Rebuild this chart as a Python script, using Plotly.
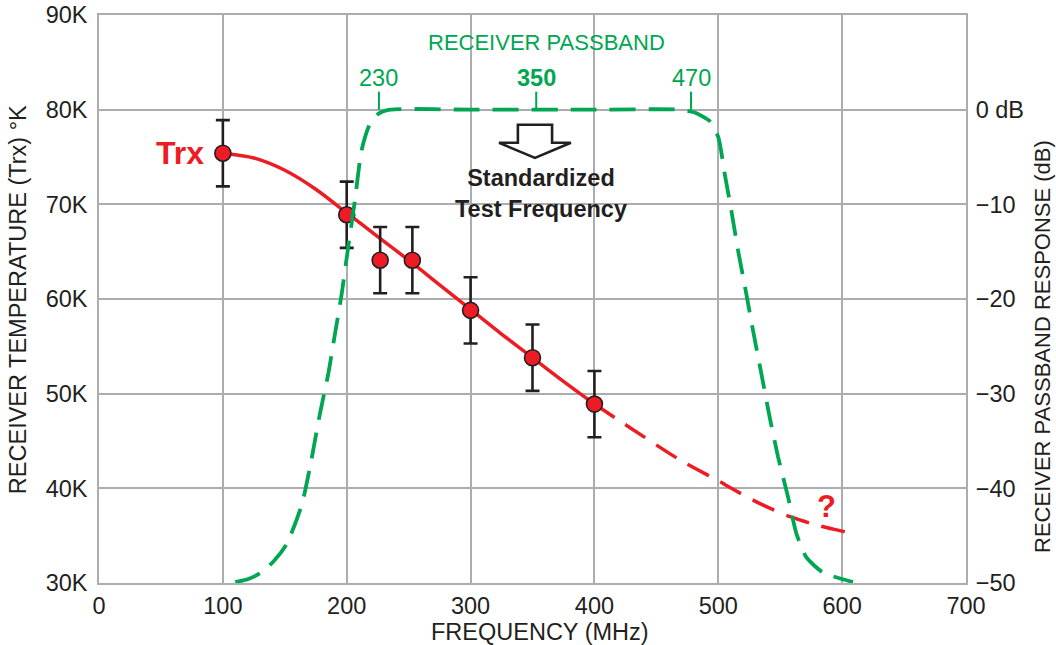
import plotly.graph_objects as go

# ---------------- data ----------------
meas_freq = [100, 200, 227, 253, 300, 350, 400]          # MHz
meas_trx = [75.4, 68.9, 64.1, 64.1, 58.8, 53.8, 48.9]    # K (thousands)
meas_err = [3.5, 3.5, 3.5, 3.5, 3.5, 3.5, 3.5]

fit_freq = [100, 125, 150, 175, 200, 225, 250, 275, 300, 325, 350, 375, 400]
fit_trx = [75.4, 74.9, 73.6, 71.6, 69.1, 66.6, 64.1, 61.5, 58.9, 56.3, 53.8, 51.3, 48.9]

extrap_freq = [400, 430, 469, 500, 512, 535, 558, 580, 602, 610]
extrap_trx = [48.9, 46.3, 43.0, 40.8, 39.9, 38.3, 37.0, 36.1, 35.4, 35.1]

pb_freq = [110, 120, 131, 141, 151.5, 163.6, 170.3, 178.4, 185.1, 190.5, 195.9, 201.2, 206.6, 212, 218.7,
           225.5, 235, 300, 400, 469, 481, 493, 500, 505.2, 510.6, 516, 522.7, 528, 534.8,
           541.5, 548.3, 556.3, 563.1, 571.2, 584.6, 608.8]
pb_db = [-49.9, -49.6, -48.9, -47.7, -45.9, -41.8, -37.8, -32.1, -27.9, -23.7, -19.5, -14.5, -9.6, -4.3, -1.5,
         -0.45, 0, 0, 0, 0, -0.3, -1.2, -2.9, -6.8, -10.7, -14.9, -19.5, -23.3, -27.9,
         -32.5, -36.7, -40.9, -44.8, -47.3, -48.9, -49.9]

pb_marker_x = [226, 353, 478]
pb_marker_labels = ["230", "350", "470"]

x_ticks = [0, 100, 200, 300, 400, 500, 600, 700]
y_ticks = [30, 40, 50, 60, 70, 80, 90]
y_ticklabels = ["30K", "40K", "50K", "60K", "70K", "80K", "90K"]
y2_ticks = [0, -10, -20, -30, -40, -50]
y2_ticklabels = ["0 dB", "\u221210", "\u221220", "\u221230", "\u221240", "\u221250"]

# ---------------- style ----------------
RED = "#ED1C24"
GREEN = "#00A651"
INK = "#231F20"
GRID = "#ABADB0"
FONT = "Liberation Sans, Arial, Helvetica, sans-serif"
TS = 23.5

fig = go.Figure()

# red fitted curve (solid) and extrapolation (dashed)
fig.add_trace(go.Scatter(x=fit_freq, y=fit_trx, mode="lines", line=dict(color=RED, width=3.5, shape="spline", smoothing=0.8),
                         hoverinfo="skip", showlegend=False))
fig.add_trace(go.Scatter(x=extrap_freq, y=extrap_trx, mode="lines",
                         line=dict(color=RED, width=3.5, dash="24px,13px", shape="spline", smoothing=0.8),
                         hoverinfo="skip", showlegend=False))
# measurements
fig.add_trace(go.Scatter(x=meas_freq, y=meas_trx, mode="markers",
                         marker=dict(size=16, color=RED, line=dict(color=INK, width=1.6)),
                         error_y=dict(type="data", array=meas_err, color=INK, thickness=2.6, width=7),
                         showlegend=False))

# passband on right axis
fig.add_trace(go.Scatter(x=pb_freq, y=pb_db, yaxis="y2", mode="lines",
                         line=dict(color=GREEN, width=3.8, dash="26px,13px", shape="spline", smoothing=0.6),
                         hoverinfo="skip", showlegend=False))
mx, my = [], []
for xv in pb_marker_x:
    mx += [xv, xv, None]
    my += [0, 1.9, None]
fig.add_trace(go.Scatter(x=mx, y=my, yaxis="y2", mode="lines", line=dict(color=GREEN, width=2),
                         hoverinfo="skip", showlegend=False))

# annotations
ann = []
for xv, lab in zip(pb_marker_x, pb_marker_labels):
    bold = lab == "350"
    ann.append(dict(x=xv, y=3.3, xref="x", yref="y2", text=("<b>%s</b>" % lab) if bold else lab,
                    showarrow=False, font=dict(family=FONT, size=TS, color=GREEN)))
ann.append(dict(x=361, y=7.1, xref="x", yref="y2", text="RECEIVER PASSBAND", showarrow=False,
                font=dict(family=FONT, size=22, color=GREEN)))
ann.append(dict(x=meas_freq[0], y=meas_trx[0], xref="x", yref="y", text="<b>Trx</b>", showarrow=False,
                xanchor="right", xshift=-17, yshift=0, font=dict(family=FONT, size=32, color=RED)))
ann.append(dict(x=587, y=38.1, xref="x", yref="y", text="<b>?</b>", showarrow=False,
                font=dict(family=FONT, size=31, color=RED)))
ann.append(dict(x=357, y=71.1, xref="x", yref="y", text="<b>Standardized<br>Test Frequency</b>", showarrow=False,
                font=dict(family=FONT, size=23.5, color=INK)))
ann.append(dict(x=-0.0934, y=0.498, xref="paper", yref="paper", text="RECEIVER TEMPERATURE (Trx) \u00b0K",
                textangle=-90, showarrow=False, xanchor="center", yanchor="middle",
                font=dict(family=FONT, size=TS, color=INK)))
ann.append(dict(x=1.0888, y=0.4173, xref="paper", yref="paper", text="RECEIVER PASSBAND RESPONSE (dB)",
                textangle=-90, showarrow=False, xanchor="center", yanchor="middle",
                font=dict(family=FONT, size=22, color=INK)))
ann.append(dict(x=0.5087, y=-0.0863, xref="paper", yref="paper", text="FREQUENCY (MHz)",
                showarrow=False, xanchor="center", yanchor="middle",
                font=dict(family=FONT, size=TS, color=INK)))

# hollow down arrow, built around the test frequency marker
cx = pb_marker_x[1] - 1
sh, hh = 13.8, 29
top, shoulder, tip = 78.4, 76.5, 74.9
path = (f"M {cx-sh},{top} L {cx+sh},{top} L {cx+sh},{shoulder} L {cx+hh},{shoulder} "
        f"L {cx},{tip} L {cx-hh},{shoulder} L {cx-sh},{shoulder} Z")
shapes = [dict(type="path", path=path, xref="x", yref="y", line=dict(color=INK, width=2.6), fillcolor="white")]

fig.update_layout(
    template="none",
    width=1056, height=645,
    margin=dict(l=99, r=90, t=15, b=62, autoexpand=False),
    paper_bgcolor="white", plot_bgcolor="white",
    font=dict(family=FONT, size=TS, color=INK),
    showlegend=False,
    annotations=ann, shapes=shapes,
    xaxis=dict(range=[0, 700], tickvals=x_ticks, showgrid=True, gridcolor=GRID, gridwidth=1.5,
               showline=True, linecolor=GRID, linewidth=1.5, mirror=True, zeroline=False, automargin=False,
               ticks="outside", ticklen=1, tickcolor="rgba(0,0,0,0)", ticklabeloverflow="allow",
               tickfont=dict(family=FONT, size=TS, color=INK)),
    yaxis=dict(range=[30, 90], tickvals=y_ticks, ticktext=y_ticklabels, showgrid=True, gridcolor=GRID,
               gridwidth=1.5, showline=True, linecolor=GRID, linewidth=1.5, mirror=True, zeroline=False,
               automargin=False, ticks="outside", ticklen=5, tickcolor="rgba(0,0,0,0)",
               ticklabeloverflow="allow", tickfont=dict(family=FONT, size=TS, color=INK)),
    yaxis2=dict(range=[-50, 10], overlaying="y", side="right", tickvals=y2_ticks, ticktext=y2_ticklabels,
                showgrid=False, zeroline=False, showline=False, automargin=False,
                ticks="outside", ticklen=4, tickcolor="rgba(0,0,0,0)", ticklabeloverflow="allow",
                tickfont=dict(family=FONT, size=TS, color=INK)),
)

# remove the default 8px page margin so the 1056x645 figure fills the window exactly
fig.write_html("out.html", config={"displayModeBar": False},
               post_script="document.body.style.margin='0';document.body.style.overflow='hidden';")
